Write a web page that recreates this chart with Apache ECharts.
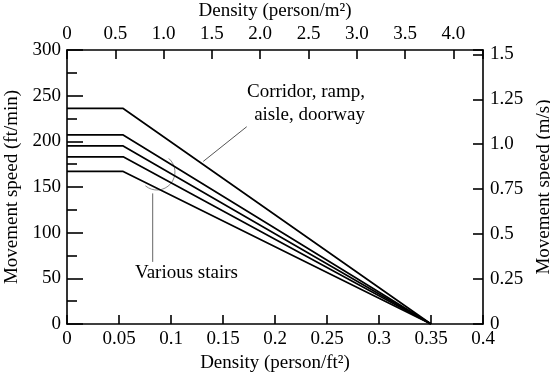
<!DOCTYPE html>
<html><head><meta charset="utf-8">
<script src="https://cdn.jsdelivr.net/npm/echarts@6/dist/echarts.min.js"></script>
<style>html,body{margin:0;padding:0;background:#fff}#c{width:550px;height:374px}</style>
</head><body><div id="c"></div>
<script>
// Density in person/ft² (bottom axis)
const densityFt = [0, 0.054, 0.35];
// Movement speed in ft/min
const corridor = [236, 236, 0];
const stairA = [207, 207, 0];
const stairB = [195, 195, 0];
const stairC = [183, 183, 0];
const stairD = [167, 167, 0];
const seriesNames = ['Corridor, ramp, aisle, doorway', 'Stair A', 'Stair B', 'Stair C', 'Stair D'];
const corridorLabel = ['Corridor, ramp,', 'aisle, doorway'];
const stairsLabel = 'Various stairs';

const FT2_PER_M2 = 10.7639;      // person/m² = person/ft² × 10.7639
const MS_PER_FTMIN = 0.00508;    // m/s per ft/min
const xMax = 0.4, yMax = 300;

const FONT = 'Liberation Serif, Times New Roman, serif';
const FS = 19;
const txt = {color: '#000', fontFamily: FONT, fontSize: FS};
const axisLine = {show: true, onZero: false, lineStyle: {color: '#000', width: 1.6}};

const allSeries = [corridor, stairA, stairB, stairC, stairD].map((vals, i) => ({
  name: seriesNames[i],
  type: 'line',
  xAxisIndex: 0, yAxisIndex: 0,
  data: densityFt.map((d, j) => [d, vals[j]]),
  symbol: 'none',
  lineStyle: {color: '#000', width: 1.7},
  silent: true, animation: false
}));

const option = {
  animation: false,
  backgroundColor: '#fff',
  grid: {left: 67, right: 67, top: 50, bottom: 50, containLabel: false, outerBoundsMode: 'none'},
  xAxis: [{
    type: 'value', position: 'bottom', min: 0, max: xMax, interval: 0.05,
    name: 'Density (person/ft²)', nameLocation: 'middle', nameGap: 25,
    nameTextStyle: txt,
    axisLine: axisLine,
    axisTick: {show: true, inside: true, length: 9, lineStyle: {color: '#000', width: 1.6}},
    axisLabel: Object.assign({margin: 6, formatter: v => String(+v.toFixed(2))}, txt),
    splitLine: {show: false}
  }, {
    type: 'value', position: 'top', min: 0, max: xMax * FT2_PER_M2, interval: 0.5,
    name: 'Density (person/m²)', nameLocation: 'middle', nameGap: 26,
    nameTextStyle: txt,
    axisLine: axisLine,
    axisTick: {show: true, inside: true, length: 9, lineStyle: {color: '#000', width: 1.6}},
    axisLabel: Object.assign({margin: 6, showMaxLabel: true, formatter: v => {
      const r = Math.round(v * 2) / 2;
      if (Math.abs(r - v) > 1e-6) return '';
      return r === 0 ? '0' : r.toFixed(1);
    }}, txt),
    splitLine: {show: false}
  }],
  yAxis: [{
    type: 'value', position: 'left', min: 0, max: yMax, interval: 50,
    name: 'Movement speed (ft/min)', nameLocation: 'middle', nameGap: 42, nameRotate: 90,
    nameTextStyle: txt,
    axisLine: axisLine,
    axisTick: {show: true, inside: true, length: 16, lineStyle: {color: '#000', width: 1.6}},
    minorTick: {show: true, splitNumber: 2, length: 10, lineStyle: {color: '#000', width: 1.6}},
    axisLabel: Object.assign({margin: 6}, txt),
    splitLine: {show: false}, minorSplitLine: {show: false}
  }, {
    type: 'value', position: 'right', min: 0, max: yMax * MS_PER_FTMIN, interval: 0.25,
    name: 'Movement speed (m/s)', nameLocation: 'middle', nameGap: 46, nameRotate: 90,
    nameTextStyle: txt,
    axisLine: axisLine,
    axisTick: {show: true, inside: true, length: 10, lineStyle: {color: '#000', width: 1.6}},
    axisLabel: Object.assign({margin: 7, formatter: v => {
      const r = Math.round(v * 4) / 4;
      if (Math.abs(r - v) > 1e-6) return '';
      if (r === 0) return '0';
      return (Math.round(r * 2) === r * 2) ? r.toFixed(1) : String(r);
    }}, txt),
    splitLine: {show: false}
  }],
  series: allSeries
};

const chart = echarts.init(document.getElementById('c'), null, {renderer: 'canvas'});
chart.setOption(option);

// Annotations placed in data coordinates
const P = (x, y) => chart.convertToPixel({seriesIndex: 0}, [x, y]);
const annot = {
  corridorText: [0.2865, 254.3, 228.8],
  corridorLeader: [[0.1728, 216], [0.131, 178]],
  stairsText: [0.0654, 55.8],
  stairsLeader: [[0.0824, 143], [0.0824, 68]],
  brace: [0.0865, 166.4]
};
const c1 = P(annot.corridorText[0], annot.corridorText[1]);
const c2 = P(annot.corridorText[0], annot.corridorText[2]);
const cl0 = P(...annot.corridorLeader[0]), cl1 = P(...annot.corridorLeader[1]);
const st = P(...annot.stairsText);
const sl0 = P(...annot.stairsLeader[0]), sl1 = P(...annot.stairsLeader[1]);
const br = P(...annot.brace);

chart.setOption({graphic: [
  {type: 'text', x: c1[0], y: c1[1], style: {text: corridorLabel[0], fill: '#000', font: FS + 'px ' + FONT, align: 'right', verticalAlign: 'middle'}},
  {type: 'text', x: c2[0], y: c2[1], style: {text: corridorLabel[1], fill: '#000', font: FS + 'px ' + FONT, align: 'right', verticalAlign: 'middle'}},
  {type: 'line', shape: {x1: cl0[0], y1: cl0[1], x2: cl1[0], y2: cl1[1]}, style: {stroke: '#555', lineWidth: 1}},
  {type: 'text', x: st[0], y: st[1], style: {text: stairsLabel, fill: '#000', font: FS + 'px ' + FONT, align: 'left', verticalAlign: 'middle'}},
  {type: 'line', shape: {x1: sl0[0], y1: sl0[1], x2: sl1[0], y2: sl1[1]}, style: {stroke: '#666', lineWidth: 1}},
  {type: 'arc', shape: {cx: br[0], cy: br[1], r: 18, startAngle: -49 * Math.PI / 180, endAngle: 130 * Math.PI / 180, clockwise: true}, style: {stroke: '#888', lineWidth: 1, fill: null}}
]});
</script></body></html>
